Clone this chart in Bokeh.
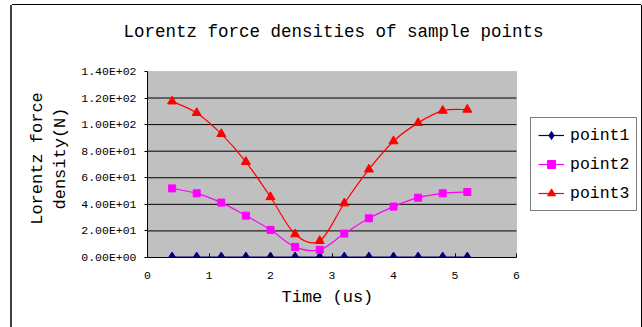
import numpy as np
from bokeh.plotting import figure
from bokeh.models import (ColumnDataSource, FixedTicker, Legend, LegendItem, BoxAnnotation, Title)
from bokeh.embed import file_html
from bokeh.resources import INLINE

# ---- data ----
time_us = [0.4, 0.8, 1.2, 1.6, 2.0, 2.4, 2.8, 3.2, 3.6, 4.0, 4.4, 4.8, 5.2]
point1 = [0.3, 0.3, 0.3, 0.3, 0.3, 0.3, 0.3, 0.3, 0.3, 0.3, 0.3, 0.3, 0.3]
point2 = [52.0, 48.3, 41.3, 31.5, 20.8, 8.0, 5.8, 18.0, 29.5, 38.3, 45.0, 48.3, 49.3]
point3 = [117.5, 108.8, 93.0, 72.0, 45.5, 17.5, 12.5, 40.8, 66.3, 87.5, 101.3, 110.5, 111.3]
series_names = ["point1", "point2", "point3"]
x_ticks = [0, 1, 2, 3, 4, 5, 6]
y_ticks = [0, 20, 40, 60, 80, 100, 120, 140]
y_tick_labels = ["0.00E+00", "2.00E+01", "4.00E+01", "6.00E+01",
                 "8.00E+01", "1.00E+02", "1.20E+02", "1.40E+02"]

FONT = "Liberation Mono"

def smooth_segments(xs, ys):
    x = np.array(xs, float)
    y = np.array(ys, float)
    xp = np.concatenate([[x[0]], x, [x[-1]]])
    yp = np.concatenate([[y[0]], y, [y[-1]]])
    n = len(x)
    d = {"x0": [], "y0": [], "x1": [], "y1": [], "cx0": [], "cy0": [], "cx1": [], "cy1": []}
    for i in range(n - 1):
        j = i + 1
        d["x0"].append(xp[j]); d["y0"].append(yp[j])
        d["x1"].append(xp[j + 1]); d["y1"].append(yp[j + 1])
        d["cx0"].append(xp[j] + (xp[j + 1] - xp[j - 1]) / 6)
        d["cy0"].append(yp[j] + (yp[j + 1] - yp[j - 1]) / 6)
        d["cx1"].append(xp[j + 1] - (xp[j + 2] - xp[j]) / 6)
        d["cy1"].append(yp[j + 1] - (yp[j + 2] - yp[j]) / 6)
    return ColumnDataSource(d)

# layout (pixels of the canvas): the frame is larger than the grey plot area,
# so the legend and the titles can sit where the reference has them
W, H = 629, 322
LEFT, PLOT_W = 135, 369          # plot area: 369 px wide for x in [0, 6]
TOP, BOTTOM, PLOT_H = 53, 70, 187  # plot area: 187 px high for y in [0, 140]
x_end = x_ticks[-1] * (W - LEFT) / PLOT_W
y_end = y_ticks[-1] * (H - TOP - BOTTOM) / PLOT_H

p = figure(width=W, height=H, x_range=(x_ticks[0], x_end), y_range=(y_ticks[0], y_end),
           output_backend="svg", toolbar_location=None,
           min_border_left=LEFT, min_border_right=0,
           min_border_top=TOP, min_border_bottom=BOTTOM)
p.margin = (5, 0, 0, 12)
p.styles = {"box-shadow": "-2px 0 0 0 #404040, 0 -1px 0 0 #000000, 1px 0 0 0 #000000"}

p.title.text = "Lorentz force densities of sample points"
p.title.align = "left"
p.title.offset = -24
p.title.vertical_align = "top"
p.title.text_font = FONT
p.title.text_font_size = "17.5px"
p.title.text_font_style = "normal"
p.title.text_color = "#000000"
p.title.standoff = 32

p.background_fill_color = "white"
p.border_fill_color = "white"
p.outline_line_color = None

plot_area = BoxAnnotation(left=x_ticks[0], right=x_ticks[-1], bottom=y_ticks[0], top=y_ticks[-1],
                          fill_color="#C0C0C0", fill_alpha=1, line_color="#808080",
                          line_width=1, level="underlay")
p.add_layout(plot_area)

p.xgrid.visible = False
p.ygrid.visible = False
p.segment(x0=[x_ticks[0]] * (len(y_ticks) - 2), x1=[x_ticks[-1]] * (len(y_ticks) - 2),
          y0=y_ticks[1:-1], y1=y_ticks[1:-1], line_color="black", line_width=1)

p.xaxis.ticker = FixedTicker(ticks=x_ticks)
p.xaxis.bounds = (x_ticks[0], x_ticks[-1])
p.yaxis.ticker = FixedTicker(ticks=y_ticks)
p.yaxis.bounds = (y_ticks[0], y_ticks[-1])
p.yaxis.major_label_overrides = {t: l for t, l in zip(y_ticks, y_tick_labels)}
for ax in (p.xaxis, p.yaxis):
    ax.axis_line_color = "black"
    ax.major_tick_line_color = "black"
    ax.minor_tick_line_color = None
    ax.major_label_text_font = FONT
    ax.major_label_text_font_size = "11.5px"
    ax.major_label_text_color = "#000000"
    ax.axis_label_text_font = FONT
    ax.axis_label_text_font_size = "17px"
    ax.axis_label_text_font_style = "normal"
    ax.axis_label_text_color = "#000000"
p.xaxis.major_tick_in = 4
p.xaxis.major_tick_out = 0
p.xaxis.major_label_standoff = 14
p.yaxis.major_tick_in = 0
p.yaxis.major_tick_out = 3
p.yaxis.major_label_standoff = 8
p.yaxis.axis_label = "Lorentz force\ndensity(N)"
p.yaxis.axis_label_standoff = 8

# x-axis title, centred under the grey plot area
x_title = Title(text="Time (us)", align="left", offset=134, text_font=FONT,
                text_font_size="17px", text_font_style="normal", text_color="#000000",
                standoff=8)
p.add_layout(x_title, "below")

colors = ["#000080", "#FF00FF", "#FF0000"]
markers = ["diamond", "square", "triangle"]
sizes = [10, 7, 9]
items = []
for name, ys, c, m, s in zip(series_names, [point1, point2, point3], colors, markers, sizes):
    src = smooth_segments(time_us, ys)
    b = p.bezier(x0="x0", y0="y0", x1="x1", y1="y1", cx0="cx0", cy0="cy0",
                 cx1="cx1", cy1="cy1", source=src, line_color=c, line_width=1.2)
    sc = p.scatter(time_us, ys, marker=m, size=s, fill_color=c, line_color=c)
    items.append(LegendItem(label=name, renderers=[b, sc]))

legend = Legend(items=items, location=(383, 46), orientation="vertical")
legend.label_text_font = FONT
legend.label_text_font_size = "16.5px"
legend.label_text_color = "#000000"
legend.border_line_color = "black"
legend.border_line_width = 1
legend.background_fill_color = "white"
legend.background_fill_alpha = 1
legend.glyph_width = 26
legend.glyph_height = 20
legend.label_height = 20
legend.spacing = 9
legend.padding = 7
legend.margin = 0
legend.label_standoff = 6
p.add_layout(legend, "center")

open("out.html", "w").write(file_html(p, INLINE))
